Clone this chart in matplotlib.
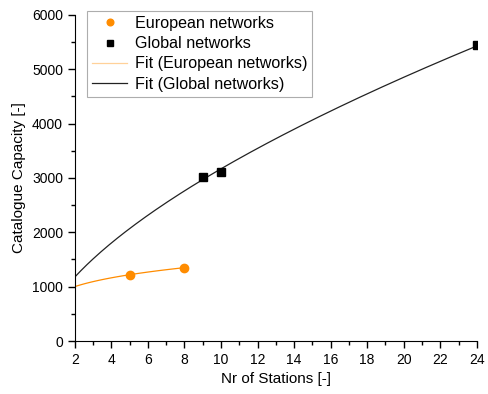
import numpy as np
import matplotlib
matplotlib.use("Agg")
import matplotlib.pyplot as plt
from matplotlib.ticker import MultipleLocator

plt.rcParams['font.family'] = ['Liberation Sans', 'DejaVu Sans']

eu_x = [5, 8]
eu_y = [1220, 1350]
gl_x = [9, 10, 24]
gl_y = [3020, 3110, 5440]

def power_fit(x, y):
    b, ln_a = np.polyfit(np.log(x), np.log(y), 1)
    return np.exp(ln_a), b

fig = plt.figure(figsize=(4.89, 3.94), dpi=100)
ax = fig.add_axes([0.153, 0.1345, 0.822, 0.8275])

orange = '#ff8c00'
a_eu, b_eu = power_fit(eu_x, eu_y)
a_gl, b_gl = power_fit(gl_x, gl_y)
xe = np.linspace(2, 8, 100)
xg = np.linspace(2, 24, 200)

ax.plot(eu_x, eu_y, 'o', color=orange, ms=6, label='European networks', zorder=3)
ax.plot(gl_x, gl_y, 's', color='black', ms=5.5, label='Global networks', zorder=3)
ax.plot(xe, a_eu * xe ** b_eu, '-', color=orange, lw=0.9, label='Fit (European networks)')
ax.plot(xg, a_gl * xg ** b_gl, '-', color='#222222', lw=0.9, label='Fit (Global networks)')

ax.set_xlim(2, 24)
ax.set_ylim(0, 6000)
ax.xaxis.set_major_locator(MultipleLocator(2))
ax.xaxis.set_minor_locator(MultipleLocator(1))
ax.yaxis.set_major_locator(MultipleLocator(1000))
ax.yaxis.set_minor_locator(MultipleLocator(500))
ax.tick_params(which='major', direction='out', length=5, width=1, labelsize=10)
ax.tick_params(which='minor', direction='out', length=3, width=1)
for s in ['top', 'right']:
    ax.spines[s].set_visible(False)
ax.set_xlabel('Nr of Stations [-]', fontsize=11)
ax.set_ylabel('Catalogue Capacity [-]', fontsize=11)

leg = ax.legend(loc='upper left', bbox_to_anchor=(87 / 489, 1 - 11 / 394),
                bbox_transform=fig.transFigure, fontsize=11.6, markerscale=0.8,
                frameon=True, fancybox=False, edgecolor='#999999',
                handlelength=2.2, handletextpad=0.45, labelspacing=0.33,
                borderpad=0.3, borderaxespad=0.0)
leg.get_frame().set_linewidth(0.8)
leg.get_lines()[2].set_alpha(0.4)

fig.savefig('out.png', dpi=100)
